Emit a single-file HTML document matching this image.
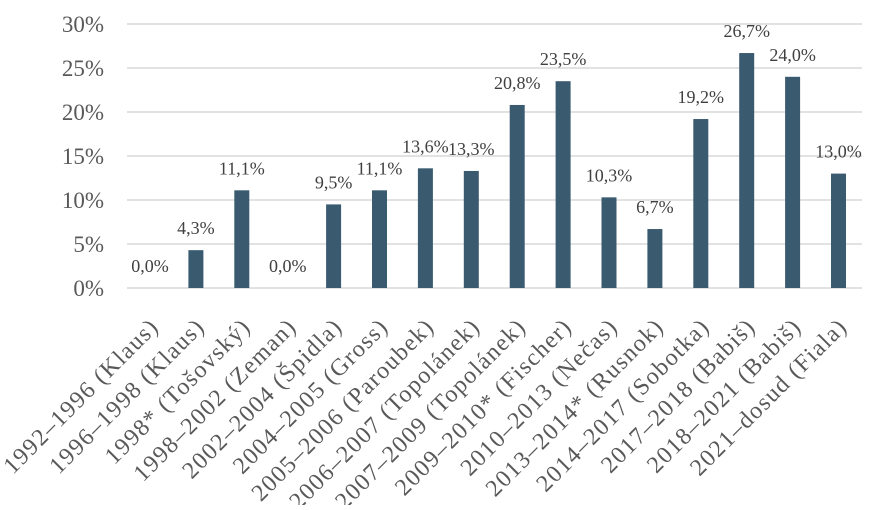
<!DOCTYPE html>
<html><head><meta charset="utf-8"><style>html,body{margin:0;padding:0;background:#fff}</style></head>
<body>
<svg width="885" height="505" xmlns="http://www.w3.org/2000/svg" font-family="Liberation Serif, serif">
<g stroke="#d9d9d9" stroke-width="1.5">
<line x1="127" x2="862" y1="24" y2="24"/><line x1="127" x2="862" y1="68" y2="68"/>
<line x1="127" x2="862" y1="112" y2="112"/><line x1="127" x2="862" y1="156" y2="156"/>
<line x1="127" x2="862" y1="200" y2="200"/><line x1="127" x2="862" y1="244" y2="244"/>
<line x1="127" x2="862" y1="288" y2="288"/>
</g>
<g font-size="23" fill="#595959" text-anchor="end">
<text x="104" y="32">30%</text><text x="104" y="76">25%</text><text x="104" y="120">20%</text>
<text x="104" y="164">15%</text><text x="104" y="208">10%</text><text x="104" y="252">5%</text><text x="104" y="296">0%</text>
</g>
<g id="bars" fill="#3a5a70"></g>
<g id="vals" font-size="18" fill="#404040" text-anchor="middle"></g>
<g id="cats" font-size="24" fill="#595959" text-anchor="end" letter-spacing="1.3"></g>
<script>
var d=[["1992–1996 (Klaus)",0],["1996–1998 (Klaus)",4.3],["1998* (Tošovský)",11.1],["1998–2002 (Zeman)",0],["2002–2004 (Špidla)",9.5],["2004–2005 (Gross)",11.1],["2005–2006 (Paroubek)",13.6],["2006–2007 (Topolánek)",13.3],["2007–2009 (Topolánek)",20.8],["2009–2010* (Fischer)",23.5],["2010–2013 (Nečas)",10.3],["2013–2014* (Rusnok)",6.7],["2014–2017 (Sobotka)",19.2],["2017–2018 (Babiš)",26.7],["2018–2021 (Babiš)",24.0],["2021–dosud (Fiala)",13.0]];
var ns="http://www.w3.org/2000/svg",b=document.getElementById("bars"),v=document.getElementById("vals"),c=document.getElementById("cats");
d.forEach(function(e,i){var cx=150+i*45.9,h=e[1]*8.8;
if(h>0){var r=document.createElementNS(ns,"rect");r.setAttribute("x",cx-7.5);r.setAttribute("y",288-h);r.setAttribute("width",15);r.setAttribute("height",h);b.appendChild(r);}
var t=document.createElementNS(ns,"text");t.setAttribute("x",cx);t.setAttribute("y",h>0?282-h-10:272);t.textContent=e[1].toFixed(1).replace(".",",")+"%";v.appendChild(t);
var l=document.createElementNS(ns,"text");l.setAttribute("transform","translate("+(cx+10)+",328) rotate(-45)");l.textContent=e[0];c.appendChild(l);});
</script>
</svg>
</body></html>
